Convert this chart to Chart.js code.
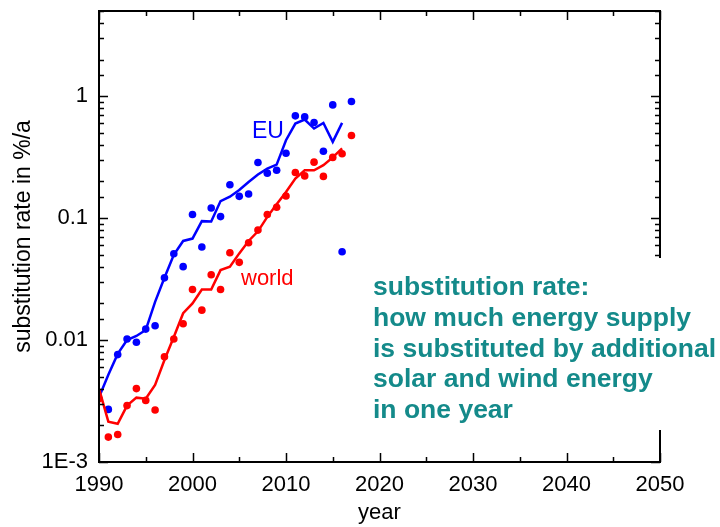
<!DOCTYPE html>
<html>
<head>
<meta charset="utf-8">
<title>substitution rate</title>
<script src="https://cdn.jsdelivr.net/npm/chart.js@4.4.1/dist/chart.umd.min.js"></script>
<style>
  html, body { margin: 0; padding: 0; background: #fff; }
  #wrap { width: 720px; height: 527px; }
</style>
</head>
<body>
<div id="wrap"><canvas id="rateChart" width="720" height="527"></canvas></div>
<script>
// yearly measured values (dots)
const pointYears = [1990, 1991, 1992, 1993, 1994, 1995, 1996, 1997, 1998, 1999,
                    2000, 2001, 2002, 2003, 2004, 2005, 2006, 2007, 2008, 2009,
                    2010, 2011, 2012, 2013, 2014, 2015, 2016, 2017];
const euPoints = [null, 0.0027, 0.0076, 0.0102, 0.0096, 0.0123, 0.0131, 0.0324, 0.051, 0.040,
                  0.107, 0.058, 0.121, 0.103, 0.188, 0.151, 0.158, 0.286, 0.234, 0.247,
                  0.341, 0.69, 0.677, 0.608, 0.354, 0.849, 0.053, 0.904];
const worldPoints = [0.0033, 0.0016, 0.00168, 0.0029, 0.0040, 0.0032, 0.00267, 0.0073, 0.0102, 0.0136,
                     0.026, 0.0176, 0.0343, 0.026, 0.052, 0.0434, 0.0628, 0.0798, 0.107, 0.123,
                     0.152, 0.237, 0.222, 0.288, 0.220, 0.315, 0.337, 0.476];

// smoothed curves (lines)
const lineYears = [1990, 1991, 1992, 1993, 1994, 1995, 1996, 1997, 1998, 1999,
                   2000, 2001, 2002, 2003, 2004, 2005, 2006, 2007, 2008, 2009,
                   2010, 2011, 2012, 2013, 2014, 2015, 2016];
const euLine = [0.0034, 0.0052, 0.0077, 0.0100, 0.0108, 0.0121, 0.0206, 0.0324, 0.050, 0.065,
                0.068, 0.0945, 0.094, 0.138, 0.150, 0.170, 0.198, 0.228, 0.255, 0.275,
                0.436, 0.597, 0.644, 0.543, 0.604, 0.422, 0.604];
const worldLine = [0.0040, 0.00214, 0.00206, 0.0029, 0.00337, 0.0033, 0.00428, 0.00686, 0.0106, 0.0166,
                   0.020, 0.026, 0.026, 0.0375, 0.040, 0.0514, 0.065, 0.078, 0.1025, 0.130,
                   0.164, 0.211, 0.247, 0.247, 0.272, 0.315, 0.373];

// axis ticks
const yTickValues = [0.001, 0.01, 0.1, 1];
const yTickLabels = ['1E-3', '0.01', '0.1', '1'];
const xTickLabels = ['1990', '2000', '2010', '2020', '2030', '2040', '2050'];

const noteLines = ['substitution rate:', 'how much energy supply', 'is substituted by additional',
                   'solar and wind energy', 'in one year'];

const BLUE = '#0000ff';
const RED = '#ff0000';
const TEAL = '#148a8a';
const FONT = "'Liberation Sans', Arial, sans-serif";

function toXY(years, values) {
    return years.map((yr, i) => ({x: yr, y: values[i]})).filter(p => p.y !== null);
}

function isDecade(v) {
    const l = Math.log10(v);
    return Math.abs(l - Math.round(l)) < 1e-6;
}

// frame with inward ticks on all four sides, plus the annotations
const framePlugin = {
    id: 'frame',
    afterDatasetsDraw(chart) {
        const {ctx, chartArea: a, scales: {x, y}} = chart;
        ctx.save();
        ctx.strokeStyle = '#000';
        ctx.lineWidth = 1.5;
        ctx.beginPath();
        x.ticks.forEach(t => {
            const px = Math.round(x.getPixelForValue(t.value)) + 0.5;
            const len = t.value % 10 === 0 ? 9 : 5;
            ctx.moveTo(px, a.bottom); ctx.lineTo(px, a.bottom - len);
            ctx.moveTo(px, a.top); ctx.lineTo(px, a.top + len);
        });
        y.ticks.forEach(t => {
            const py = Math.round(y.getPixelForValue(t.value)) + 0.5;
            const len = isDecade(t.value) ? 9 : 5;
            ctx.moveTo(a.left, py); ctx.lineTo(a.left + len, py);
            ctx.moveTo(a.right, py); ctx.lineTo(a.right - len, py);
        });
        ctx.stroke();
        ctx.lineWidth = 2;
        ctx.strokeRect(a.left, a.top, a.right - a.left, a.bottom - a.top);
        ctx.restore();
    },
    afterDraw(chart) {
        const ctx = chart.ctx;
        ctx.save();
        // series labels
        ctx.textBaseline = 'alphabetic';
        ctx.textAlign = 'left';
        ctx.font = '23px ' + FONT;
        ctx.fillStyle = BLUE;
        ctx.fillText('EU', 252, 138);
        ctx.font = '22px ' + FONT;
        ctx.fillStyle = RED;
        ctx.fillText('world', 241, 285);
        // explanation box (covers the right axis)
        ctx.fillStyle = '#fff';
        ctx.fillRect(366, 258, 354, 172);
        ctx.fillStyle = TEAL;
        ctx.font = 'bold 26.5px ' + FONT;
        ctx.textBaseline = 'middle';
        noteLines.forEach((s, i) => ctx.fillText(s, 373, 288 + i * 30.7));
        ctx.restore();
    }
};

const ctx = document.getElementById('rateChart');
new Chart(ctx, {
    type: 'scatter',
    data: {
        datasets: [
            {
                label: 'world line',
                data: toXY(lineYears, worldLine),
                showLine: true,
                borderColor: RED,
                borderWidth: 2.5,
                pointRadius: 0,
                tension: 0
            },
            {
                label: 'EU line',
                data: toXY(lineYears, euLine),
                showLine: true,
                borderColor: BLUE,
                borderWidth: 2.5,
                pointRadius: 0,
                tension: 0
            },
            {
                label: 'world',
                data: toXY(pointYears, worldPoints),
                backgroundColor: RED,
                borderWidth: 0,
                pointRadius: 3.8
            },
            {
                label: 'EU',
                data: toXY(pointYears, euPoints),
                backgroundColor: BLUE,
                borderWidth: 0,
                pointRadius: 3.8
            }
        ]
    },
    options: {
        responsive: false,
        animation: false,
        devicePixelRatio: 1,
        layout: { padding: { top: 11, right: 60, left: 0, bottom: 0 } },
        plugins: {
            legend: { display: false },
            tooltip: { enabled: false }
        },
        scales: {
            x: {
                type: 'linear',
                min: 1990,
                max: 2050,
                grid: { display: false },
                border: { display: false },
                ticks: {
                    stepSize: 5,
                    maxRotation: 0,
                    autoSkip: false,
                    padding: 2,
                    color: '#000',
                    font: { family: FONT, size: 22 },
                    callback: v => (v % 10 === 0 ? xTickLabels[(v - 1990) / 10] : '')
                },
                title: {
                    display: true,
                    text: 'year',
                    color: '#000',
                    font: { family: FONT, size: 22 },
                    padding: { top: 0, bottom: 1 }
                },
                afterFit: s => { s.height = 65; s.paddingLeft = 0; s.paddingRight = 0; }
            },
            y: {
                type: 'logarithmic',
                min: 0.001,
                max: 5,
                grid: { display: false },
                border: { display: false },
                ticks: {
                    autoSkip: false,
                    padding: 3,
                    color: '#000',
                    font: { family: FONT, size: 22 },
                    callback: v => {
                        const i = yTickValues.findIndex(t => Math.abs(t - v) / t < 1e-6);
                        return i >= 0 ? yTickLabels[i] : '';
                    }
                },
                title: {
                    display: true,
                    text: 'substitution rate in %/a',
                    color: '#000',
                    font: { family: FONT, size: 23 },
                    padding: { top: 10, bottom: 0 }
                },
                afterFit: s => { s.width = 99; s.paddingTop = 0; s.paddingBottom = 0; }
            }
        }
    },
    plugins: [framePlugin]
});
</script>
</body>
</html>
